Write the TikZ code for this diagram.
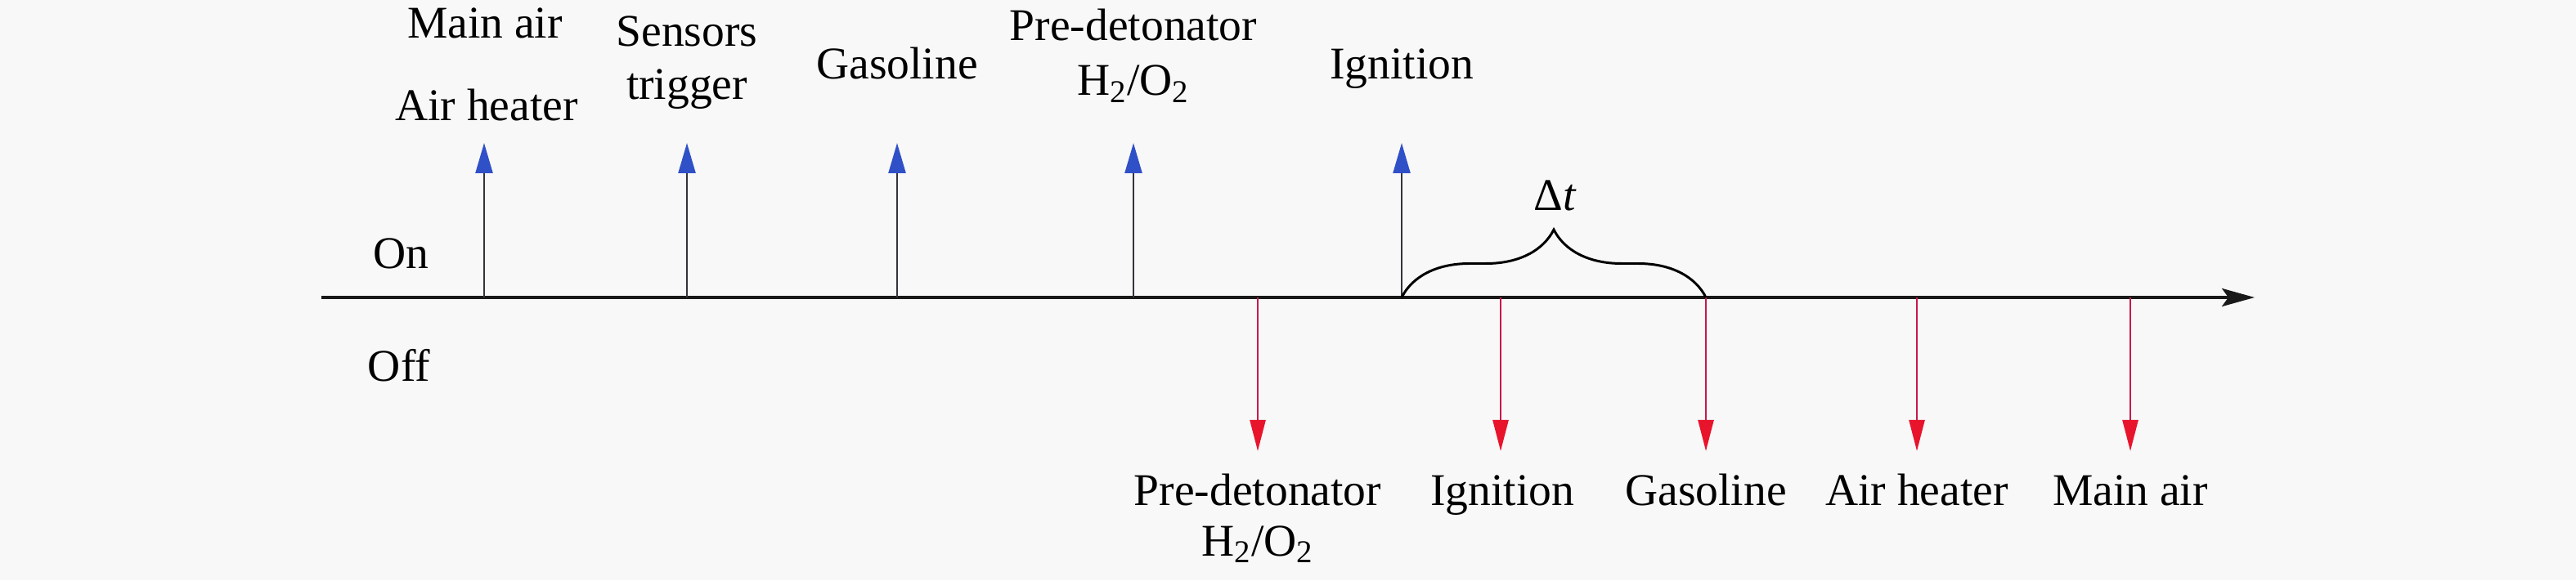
\documentclass[tikz,border=0pt]{standalone}
\usepackage{fontspec}
\setmainfont{Liberation Serif}
\usepackage{tikz}
\usetikzlibrary{positioning}
\usetikzlibrary{arrows.meta}
\usetikzlibrary{decorations.pathreplacing}
\definecolor{bgcol}{RGB}{248,248,248}
\definecolor{oncol}{RGB}{51,51,60}
\definecolor{onhead}{RGB}{48,80,200}
\definecolor{offcol}{RGB}{200,24,74}
\definecolor{offhead}{RGB}{232,20,44}
\tikzset{
  lbl/.style={anchor=base, inner sep=0pt, font=\fontsize{15.8pt}{19pt}\selectfont},
  onarrow/.style={draw=oncol, line width=0.7pt, -{Triangle[length=0.37cm, width=0.21cm, color=onhead]}},
  offarrow/.style={draw=offcol, line width=0.7pt, -{Triangle[length=0.38cm, width=0.19cm, color=offhead]}},
  axisline/.style={draw=black!90, line width=1.1pt, -{Stealth[length=0.4cm, width=0.22cm, inset=0.08cm]}},
  bracepath/.style={draw=black, line width=0.85pt, decorate, decoration={brace, amplitude=0.83cm}}
}

\begin{document}
\begin{tikzpicture}
  \fill [bgcol] (0,0) rectangle (31.5,7.1);
  \useasboundingbox (0,0) rectangle (31.5,7.1);

  % time axis
  \coordinate (start) at (3.93, 3.46);
  \coordinate (end) at (27.57, 3.46);
  \draw [axisline] (start) -- (end);

  \node [lbl] (on) at (4.90, 3.81) {On};
  \node [lbl] (off) at (4.88, 2.43) {Off};

  % switched on
  \coordinate (a0) at (5.92, 3.46);
  \coordinate (a1) at (5.92, 5.35);
  \coordinate (b0) at (8.40, 3.46);
  \coordinate (b1) at (8.40, 5.35);
  \coordinate (c0) at (10.97, 3.46);
  \coordinate (c1) at (10.97, 5.35);
  \coordinate (d0) at (13.86, 3.46);
  \coordinate (d1) at (13.86, 5.35);
  \coordinate (e0) at (17.14, 3.46);
  \coordinate (e1) at (17.14, 5.35);
  \draw [onarrow] (a0) -- (a1);
  \draw [onarrow] (b0) -- (b1);
  \draw [onarrow] (c0) -- (c1);
  \draw [onarrow] (d0) -- (d1);
  \draw [onarrow] (e0) -- (e1);

  \node [lbl] (mainairon) at (5.93, 6.63) {Main air};
  \node [lbl] (heateron) at (5.95, 5.62) {Air heater};
  \node [lbl] (sensors) at (8.40, 6.53) {Sensors};
  \node [lbl] (trigger) at (8.40, 5.88) {trigger};
  \node [lbl] (gason) at (10.97, 6.13) {Gasoline};
  \node [lbl] (predeton) at (13.86, 6.60) {Pre-detonator};
  \node [lbl] (hoon) at (13.86, 5.93) {H\textsubscript{2}/O\textsubscript{2}};
  \node [lbl] (ignon) at (17.14, 6.13) {Ignition};

  % switched off
  \coordinate (f0) at (15.38, 3.46);
  \coordinate (f1) at (15.38, 1.58);
  \coordinate (g0) at (18.35, 3.46);
  \coordinate (g1) at (18.35, 1.58);
  \coordinate (h0) at (20.86, 3.46);
  \coordinate (h1) at (20.86, 1.58);
  \coordinate (i0) at (23.44, 3.46);
  \coordinate (i1) at (23.44, 1.58);
  \coordinate (j0) at (26.05, 3.46);
  \coordinate (j1) at (26.05, 1.58);
  \draw [offarrow] (f0) -- (f1);
  \draw [offarrow] (g0) -- (g1);
  \draw [offarrow] (h0) -- (h1);
  \draw [offarrow] (i0) -- (i1);
  \draw [offarrow] (j0) -- (j1);

  \node [lbl] (predetoff) at (15.38, 0.92) {Pre-detonator};
  \node [lbl] (hooff) at (15.38, 0.30) {H\textsubscript{2}/O\textsubscript{2}};
  \node [lbl] (ignoff) at (18.37, 0.92) {Ignition};
  \node [lbl] (gasoff) at (20.86, 0.92) {Gasoline};
  \node [lbl] (heateroff) at (23.44, 0.92) {Air heater};
  \node [lbl] (mainairoff) at (26.05, 0.92) {Main air};

  % delay between ignition on and gasoline off
  \draw [bracepath] (e0) -- (h0);
  \node [lbl] (dt) at (19.02, 4.52) {Δ\textit{t}};
\end{tikzpicture}
\end{document}
